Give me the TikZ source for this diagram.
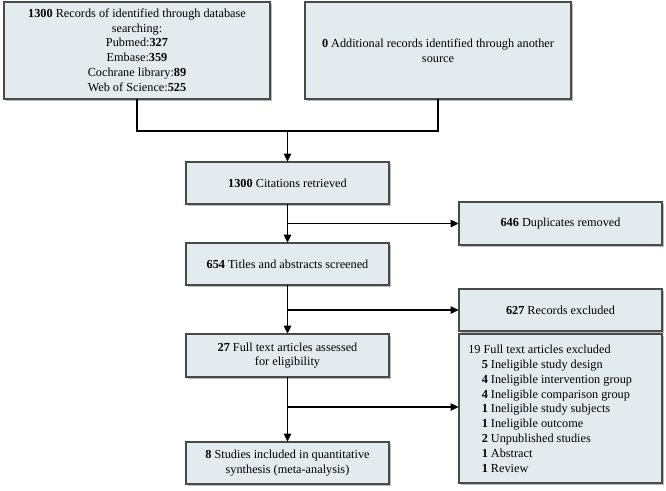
\documentclass[tikz,border=0pt]{standalone}
\usepackage{fontspec}
\setmainfont{Liberation Serif}
\usetikzlibrary{arrows.meta,shadows}
\definecolor{boxfill}{HTML}{E4EBEE}
\definecolor{boxline}{HTML}{4A4A4A}
\begin{document}
\begin{tikzpicture}[x=0.75pt,y=-0.75pt,
  flowbox/.style={draw=boxline,line width=0.9pt,fill=boxfill,
    drop shadow={shadow xshift=1.2pt,shadow yshift=-1.2pt,fill=black!45,opacity=0.6},
    inner sep=0pt},
  link/.style={line width=1pt,black},
  arr/.style={link,-{Triangle[length=6pt,width=5.5pt]}},
  txt/.style={font=\fontsize{9.2}{11.1}\selectfont,align=center,inner sep=0pt}]
\useasboundingbox (0,0) rectangle (666,490);

% boxes: drawn as rectangles, texts placed at centres
\path[flowbox] (4,2) rectangle (270,99);
\node (b1) at (137,50.5) [minimum width=266*0.75pt,minimum height=97*0.75pt] {};
\node[txt] at (137,50) {\textbf{1300} Records of identified through database\\searching:\\Pubmed:\textbf{327}\\Embase:\textbf{359}\\Cochrane library:\textbf{89}\\Web of Science:\textbf{525}};

\path[flowbox] (305,2) rectangle (571,99);
\node (b2) at (438,50.5) [minimum width=266*0.75pt,minimum height=97*0.75pt] {};
\node[txt] at (438,51) {\textbf{0} Additional records identified through another\\source};

\path[flowbox] (186,162) rectangle (389,204);
\node (cit) at (287.5,183) [minimum width=203*0.75pt,minimum height=42*0.75pt] {};
\node[txt] at (287.5,183) {\textbf{1300} Citations retrieved};

\path[flowbox] (459,202) rectangle (662,245);
\node (dup) at (560.5,223.5) [minimum width=203*0.75pt,minimum height=43*0.75pt] {};
\node[txt] at (560.5,224) {\textbf{646} Duplicates removed};

\path[flowbox] (186,243) rectangle (389,285);
\node (scr) at (287.5,264) [minimum width=203*0.75pt,minimum height=42*0.75pt] {};
\node[txt] at (287.5,264) {\textbf{654} Titles and abstracts screened};

\path[flowbox] (459,289) rectangle (662,331);
\node (exc) at (560.5,310) [minimum width=203*0.75pt,minimum height=42*0.75pt] {};
\node[txt] at (560.5,310) {\textbf{627} Records excluded};

\path[flowbox] (186,334) rectangle (389,377);
\node (full) at (287.5,355.5) [minimum width=203*0.75pt,minimum height=43*0.75pt] {};
\node[txt] at (287.5,355.5) {\textbf{27} Full text articles assessed\\for eligibility};

\path[flowbox] (459,334) rectangle (662,483);
\node (ftx) at (560.5,408.5) [minimum width=203*0.75pt,minimum height=149*0.75pt] {};
\node[txt,align=left,anchor=north west] at (468,345) {19 Full text articles excluded\\
\hspace*{1.1em}\textbf{5} Ineligible study design\\
\hspace*{1.1em}\textbf{4} Ineligible intervention group\\
\hspace*{1.1em}\textbf{4} Ineligible comparison group\\
\hspace*{1.1em}\textbf{1} Ineligible study subjects\\
\hspace*{1.1em}\textbf{1} Ineligible outcome\\
\hspace*{1.1em}\textbf{2} Unpublished studies\\
\hspace*{1.1em}\textbf{1} Abstract\\
\hspace*{1.1em}\textbf{1} Review};

\path[flowbox] (186,442) rectangle (389,484);
\node (inc) at (287.5,463) [minimum width=203*0.75pt,minimum height=42*0.75pt] {};
\node[txt] at (287.5,463) {\textbf{8} Studies included in quantitative\\synthesis (meta-analysis)};

% connectors
\coordinate (j1) at (287.5,131);
\draw[link] (b1.south) |- (j1);
\draw[link] (b2.south) |- (j1);
\draw[arr] (j1) -- (cit.north);

\coordinate (j2) at (287.5,223.5);
\draw[arr] (cit.south) -- (scr.north);
\draw[arr] (j2) -- (dup.west);

\coordinate (j3) at (287.5,310);
\draw[arr] (scr.south) -- (full.north);
\draw[arr] (j3) -- (exc.west);

\coordinate (j4) at (287.5,407);
\draw[arr] (full.south) -- (inc.north);
\draw[arr] (j4) -- (ftx.west |- j4);
\end{tikzpicture}
\end{document}
